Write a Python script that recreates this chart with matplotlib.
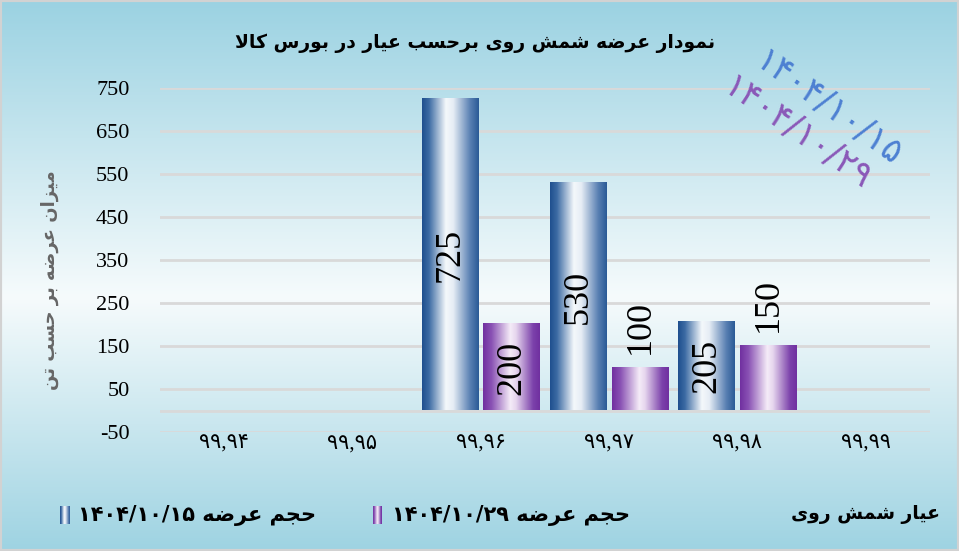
import matplotlib
matplotlib.use('Agg')
import matplotlib.pyplot as plt
import numpy as np
from matplotlib.colors import LinearSegmentedColormap
from matplotlib.patches import Rectangle

# data
grades = ['۹۹,۹۴', '۹۹,۹۵', '۹۹,۹۶', '۹۹,۹۷', '۹۹,۹۸', '۹۹,۹۹']
supply_1015 = [0, 0, 725, 530, 205, 0]
supply_1029 = [0, 0, 200, 100, 150, 0]
date_1015 = '۱۴۰۴/۱۰/۱۵'
date_1029 = '۱۴۰۴/۱۰/۲۹'
y_ticks = [-50, 50, 150, 250, 350, 450, 550, 650, 750]

title_txt = 'نمودار عرضه شمش روی برحسب عیار در بورس کالا'
ylabel_txt = 'میزان عرضه بر حسب تن'
xlabel_txt = 'عیار شمش روی'
legend_txt = ['حجم عرضه ' + date_1015, 'حجم عرضه ' + date_1029]

# small arabic shaper (matplotlib has no text shaping)
# iso, fin, ini, med
FORMS = {
    'ا': ('\uFE8D', '\uFE8E', None, None),
    'ب': ('\uFE8F', '\uFE90', '\uFE91', '\uFE92'),
    'ت': ('\uFE95', '\uFE96', '\uFE97', '\uFE98'),
    'ج': ('\uFE9D', '\uFE9E', '\uFE9F', '\uFEA0'),
    'ح': ('\uFEA1', '\uFEA2', '\uFEA3', '\uFEA4'),
    'د': ('\uFEA9', '\uFEAA', None, None),
    'ر': ('\uFEAD', '\uFEAE', None, None),
    'ز': ('\uFEAF', '\uFEB0', None, None),
    'س': ('\uFEB1', '\uFEB2', '\uFEB3', '\uFEB4'),
    'ش': ('\uFEB5', '\uFEB6', '\uFEB7', '\uFEB8'),
    'ض': ('\uFEBD', '\uFEBE', '\uFEBF', '\uFEC0'),
    'ع': ('\uFEC9', '\uFECA', '\uFECB', '\uFECC'),
    'ل': ('\uFEDD', '\uFEDE', '\uFEDF', '\uFEE0'),
    'م': ('\uFEE1', '\uFEE2', '\uFEE3', '\uFEE4'),
    'ن': ('\uFEE5', '\uFEE6', '\uFEE7', '\uFEE8'),
    'ه': ('\uFEE9', '\uFEEA', '\uFEEB', '\uFEEC'),
    'و': ('\uFEED', '\uFEEE', None, None),
    'ی': ('\uFBFC', '\uFBFD', '\uFBFE', '\uFBFF'),
    'ک': ('\uFB8E', '\uFB8F', '\uFB90', '\uFB91'),
    'LA': ('\uFEFB', '\uFEFC', None, None),
}


def shape_word(w):
    units = []
    i = 0
    while i < len(w):
        if w[i] == 'ل' and i + 1 < len(w) and w[i + 1] == 'ا':
            units.append('LA')
            i += 2
        else:
            units.append(w[i])
            i += 1
    out = []
    for k, u in enumerate(units):
        if u not in FORMS:
            out.append(u)
            continue
        f = FORMS[u]
        prev = units[k - 1] if k > 0 else None
        nxt = units[k + 1] if k + 1 < len(units) else None
        jp = prev in FORMS and FORMS[prev][2] is not None
        jn = f[2] is not None and nxt in FORMS
        if jp and jn:
            out.append(f[3])
        elif jp:
            out.append(f[1])
        elif jn:
            out.append(f[2])
        else:
            out.append(f[0])
    return ''.join(reversed(out))


def visual(s):
    words = s.split(' ')
    res = []
    for w in reversed(words):
        if any(c in FORMS for c in w):
            res.append(shape_word(w))
        else:
            res.append(w)
    return ' '.join(res)


W, H = 959, 551
fig = plt.figure(figsize=(W / 100, H / 100), dpi=100)

# background gradient
bg = fig.add_axes([0, 0, 1, 1], zorder=-10)
bg_cmap = LinearSegmentedColormap.from_list('bg', [(0, '#9bd2e2'), (0.54, '#f6fbfc'), (1, '#9ed3e2')])
bg.imshow(np.linspace(0, 1, 256).reshape(-1, 1), cmap=bg_cmap, aspect='auto', extent=(0, 1, 0, 1))
bg.set_axis_off()
fig.patches.append(Rectangle((0, 0), 1, 1, transform=fig.transFigure, fill=False,
                             edgecolor='#d2d2d2', linewidth=3))

ax = fig.add_axes([160 / W, 1 - 432 / H, 770 / W, 344 / H])
ax.set_facecolor('none')

blue_cmap = LinearSegmentedColormap.from_list('blue', [
    (0, '#1f4f8e'), (0.12, '#3b6aa3'), (0.42, '#f4f8fb'), (0.55, '#e6edf5'),
    (0.85, '#587fb2'), (1, '#2a5a96')])
purple_cmap = LinearSegmentedColormap.from_list('purple', [
    (0, '#7030a0'), (0.15, '#8a52b4'), (0.48, '#f5ecf8'), (0.58, '#e6d6ee'),
    (0.88, '#7c42ab'), (1, '#7030a0')])

x = np.arange(len(grades))
w = 0.44
off = 0.24
bars1 = ax.bar(x - off, supply_1015, w, color='none', zorder=3)
bars2 = ax.bar(x + off, supply_1029, w, color='none', zorder=3)

grad = np.linspace(0, 1, 256).reshape(1, -1)
for bars, cm in ((bars1, blue_cmap), (bars2, purple_cmap)):
    for r in bars:
        h = r.get_height()
        if h <= 0:
            continue
        x0 = r.get_x()
        ax.imshow(grad, cmap=cm, aspect='auto', zorder=3,
                  extent=(x0, x0 + r.get_width(), 0, h))
        xc = x0 + r.get_width() / 2
        if h >= 200:
            ax.text(xc, h / 2, str(int(h)), rotation=90, ha='center', va='center',
                    fontsize=26, family='Liberation Serif', zorder=4)
        else:
            ax.text(xc, h + 32, str(int(h)), rotation=90, ha='center', va='bottom',
                    fontsize=26, family='Liberation Serif', zorder=4)

ax.set_xlim(-0.5, 5.5)
ax.set_ylim(-50, 750)
ax.set_yticks(y_ticks)
ax.set_yticklabels([str(v) for v in y_ticks], family='Liberation Serif', fontsize=16)
ax.set_xticks(x)
ax.set_xticklabels(grades, family=['Liberation Serif', 'DejaVu Sans'], fontsize=15)
ax.tick_params(length=0)
ax.tick_params(axis='y', pad=22)
ax.tick_params(axis='x', pad=2)
ax.grid(axis='y', color='#d9d9d9', linewidth=2, zorder=0)
ax.axhline(0, color='#d9d9d9', linewidth=2, zorder=1)
for s in ax.spines.values():
    s.set_visible(False)

# texts
fig.text(475 / W, 1 - 43 / H, visual(title_txt), ha='center', va='center',
         fontsize=13.5, fontweight='bold', family='DejaVu Sans')
fig.text(50 / W, 1 - 280 / H, visual(ylabel_txt), rotation=90, ha='center', va='center',
         fontsize=13, fontweight='bold', color='#666666', family='DejaVu Sans')
fig.text(940 / W, 1 - 515 / H, visual(xlabel_txt), ha='right', va='center',
         fontsize=13.5, fontweight='bold', family='DejaVu Sans')

# date watermark
fig.text(828 / W, 1 - 108 / H, date_1015, rotation=-36, ha='center', va='center',
         rotation_mode='anchor', fontsize=25, color='#4d80d2', family='DejaVu Sans')
fig.text(797 / W, 1 - 133 / H, date_1029, rotation=-35, ha='center', va='center',
         rotation_mode='anchor', fontsize=25, color='#8a58b8', family='DejaVu Sans')

# legend
for (mx, tx), cm, txt in zip(((60, 78), (373, 392)), (blue_cmap, purple_cmap), legend_txt):
    max_ = fig.add_axes([mx / W, 1 - 524 / H, 9 / W, 18 / H])
    max_.imshow(grad, cmap=cm, aspect='auto', extent=(0, 1, 0, 1))
    max_.set_axis_off()
    fig.text(tx / W, 1 - 516 / H, visual(txt), ha='left', va='center',
             fontsize=15, fontweight='bold', family='DejaVu Sans')

fig.savefig('out.png', dpi=100)
